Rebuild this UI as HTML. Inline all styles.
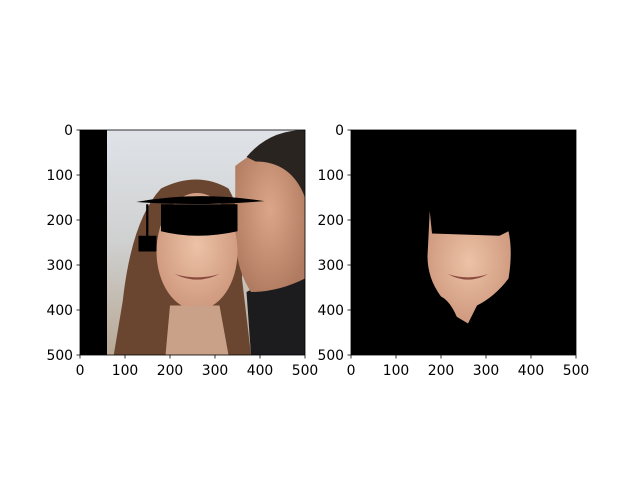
<!DOCTYPE html>
<html><head><meta charset="utf-8"><style>body{margin:0;background:#fff}svg{display:block}text{font-family:"DejaVu Sans","Liberation Sans",sans-serif;font-size:13.9px;fill:#000}</style></head>
<body>
<svg id="fig" width="640" height="480" viewBox="0 0 640 480" xmlns="http://www.w3.org/2000/svg">
<defs>
<linearGradient id="bg" x1="0" y1="0" x2="0" y2="1"><stop offset="0" stop-color="#dfe3e8"/><stop offset="0.5" stop-color="#cfd0d0"/><stop offset="1" stop-color="#b8a894"/></linearGradient>
<radialGradient id="skin" cx="0.5" cy="0.45" r="0.6"><stop offset="0" stop-color="#ecc2a6"/><stop offset="1" stop-color="#cc957a"/></radialGradient>
<radialGradient id="skin2" cx="0.5" cy="0.45" r="0.6"><stop offset="0" stop-color="#dba688"/><stop offset="1" stop-color="#b07a60"/></radialGradient>
<clipPath id="c1"><rect x="0" y="0" width="500" height="500"/></clipPath>
</defs>
<g id="left-img" transform="translate(80,130) scale(0.45)" clip-path="url(#c1)">
<rect width="500" height="500" fill="url(#bg)"/>
<rect width="60" height="500" fill="#000"/>
<path d="M75,500 L95,380 Q115,200 180,130 Q260,90 330,130 Q370,200 360,330 L380,500 Z" fill="#6a4630"/>
<path d="M380,500 L370,360 Q430,330 500,280 L500,500 Z" fill="#1c1c1e"/>
<path d="M345,80 Q420,20 500,30 L500,330 Q440,360 380,360 Q340,300 345,200 Z" fill="url(#skin2)"/>
<path d="M370,60 Q420,0 500,0 L500,150 Q470,70 390,70 Z" fill="#2a2420"/>
<ellipse cx="260" cy="270" rx="90" ry="130" fill="url(#skin)"/>
<path d="M200,390 L310,390 L330,500 L190,500 Z" fill="#c9a088"/>
<path d="M210,320 Q260,345 310,320 Q260,335 210,320 Z" fill="#8a4a3e"/>
<path d="M125,160 Q260,135 410,158 Q260,170 125,160 Z" fill="#000"/>
<path d="M180,165 L350,165 L350,225 Q260,245 180,225 Z" fill="#000"/>
<rect x="147" y="165" width="5" height="85" fill="#000"/>
<rect x="130" y="235" width="40" height="35" fill="#000"/>
</g>
<g id="right-img" transform="translate(351,130) scale(0.45)" clip-path="url(#c1)">
<rect width="500" height="500" fill="#000"/>
<path d="M175,180 L180,230 L330,235 L350,225 Q360,270 350,330 Q320,370 280,390 L260,430 L235,415 Q220,380 200,370 Q170,330 170,280 Z" fill="url(#skin)"/>
<path d="M215,320 Q260,345 305,320 Q260,335 215,320 Z" fill="#8a4a3e"/>
</g>
<g id="axes" fill="none" stroke="#000" stroke-width="0.8">
<rect x="80" y="130" width="225" height="225"/>
<rect x="351" y="130" width="225" height="225"/>
</g>
<g id="ticks"></g>
<script>
const ticks=[0,100,200,300,400,500];
const axes=[{x0:80,name:'left'},{x0:351,name:'right'}];
const y0=130,size=225,max=500;
const g=document.getElementById('ticks');
const NS='http://www.w3.org/2000/svg';
function sx(a,v){return a.x0+v/max*size;}
function sy(v){return y0+v/max*size;}
axes.forEach(a=>{
 ticks.forEach(t=>{
  let l=document.createElementNS(NS,'line');
  l.setAttribute('x1',sx(a,t));l.setAttribute('x2',sx(a,t));l.setAttribute('y1',y0+size);l.setAttribute('y2',y0+size+3.5);
  l.setAttribute('stroke','#000');l.setAttribute('stroke-width','0.8');
  
  
  g.appendChild(l);
  let tx=document.createElementNS(NS,'text');
  tx.setAttribute('x',sx(a,t));tx.setAttribute('y',y0+size+20);tx.setAttribute('text-anchor','middle');tx.textContent=t;
  
  
  g.appendChild(tx);
  let l2=document.createElementNS(NS,'line');
  l2.setAttribute('x1',a.x0-3.5);l2.setAttribute('x2',a.x0);l2.setAttribute('y1',sy(t));l2.setAttribute('y2',sy(t));
  l2.setAttribute('stroke','#000');l2.setAttribute('stroke-width','0.8');
  
  
  g.appendChild(l2);
  let ty=document.createElementNS(NS,'text');
  ty.setAttribute('x',a.x0-7);ty.setAttribute('y',sy(t)+5);ty.setAttribute('text-anchor','end');ty.textContent=t;
  
  
  g.appendChild(ty);
 });
});
</script>
</svg>
</body></html>
